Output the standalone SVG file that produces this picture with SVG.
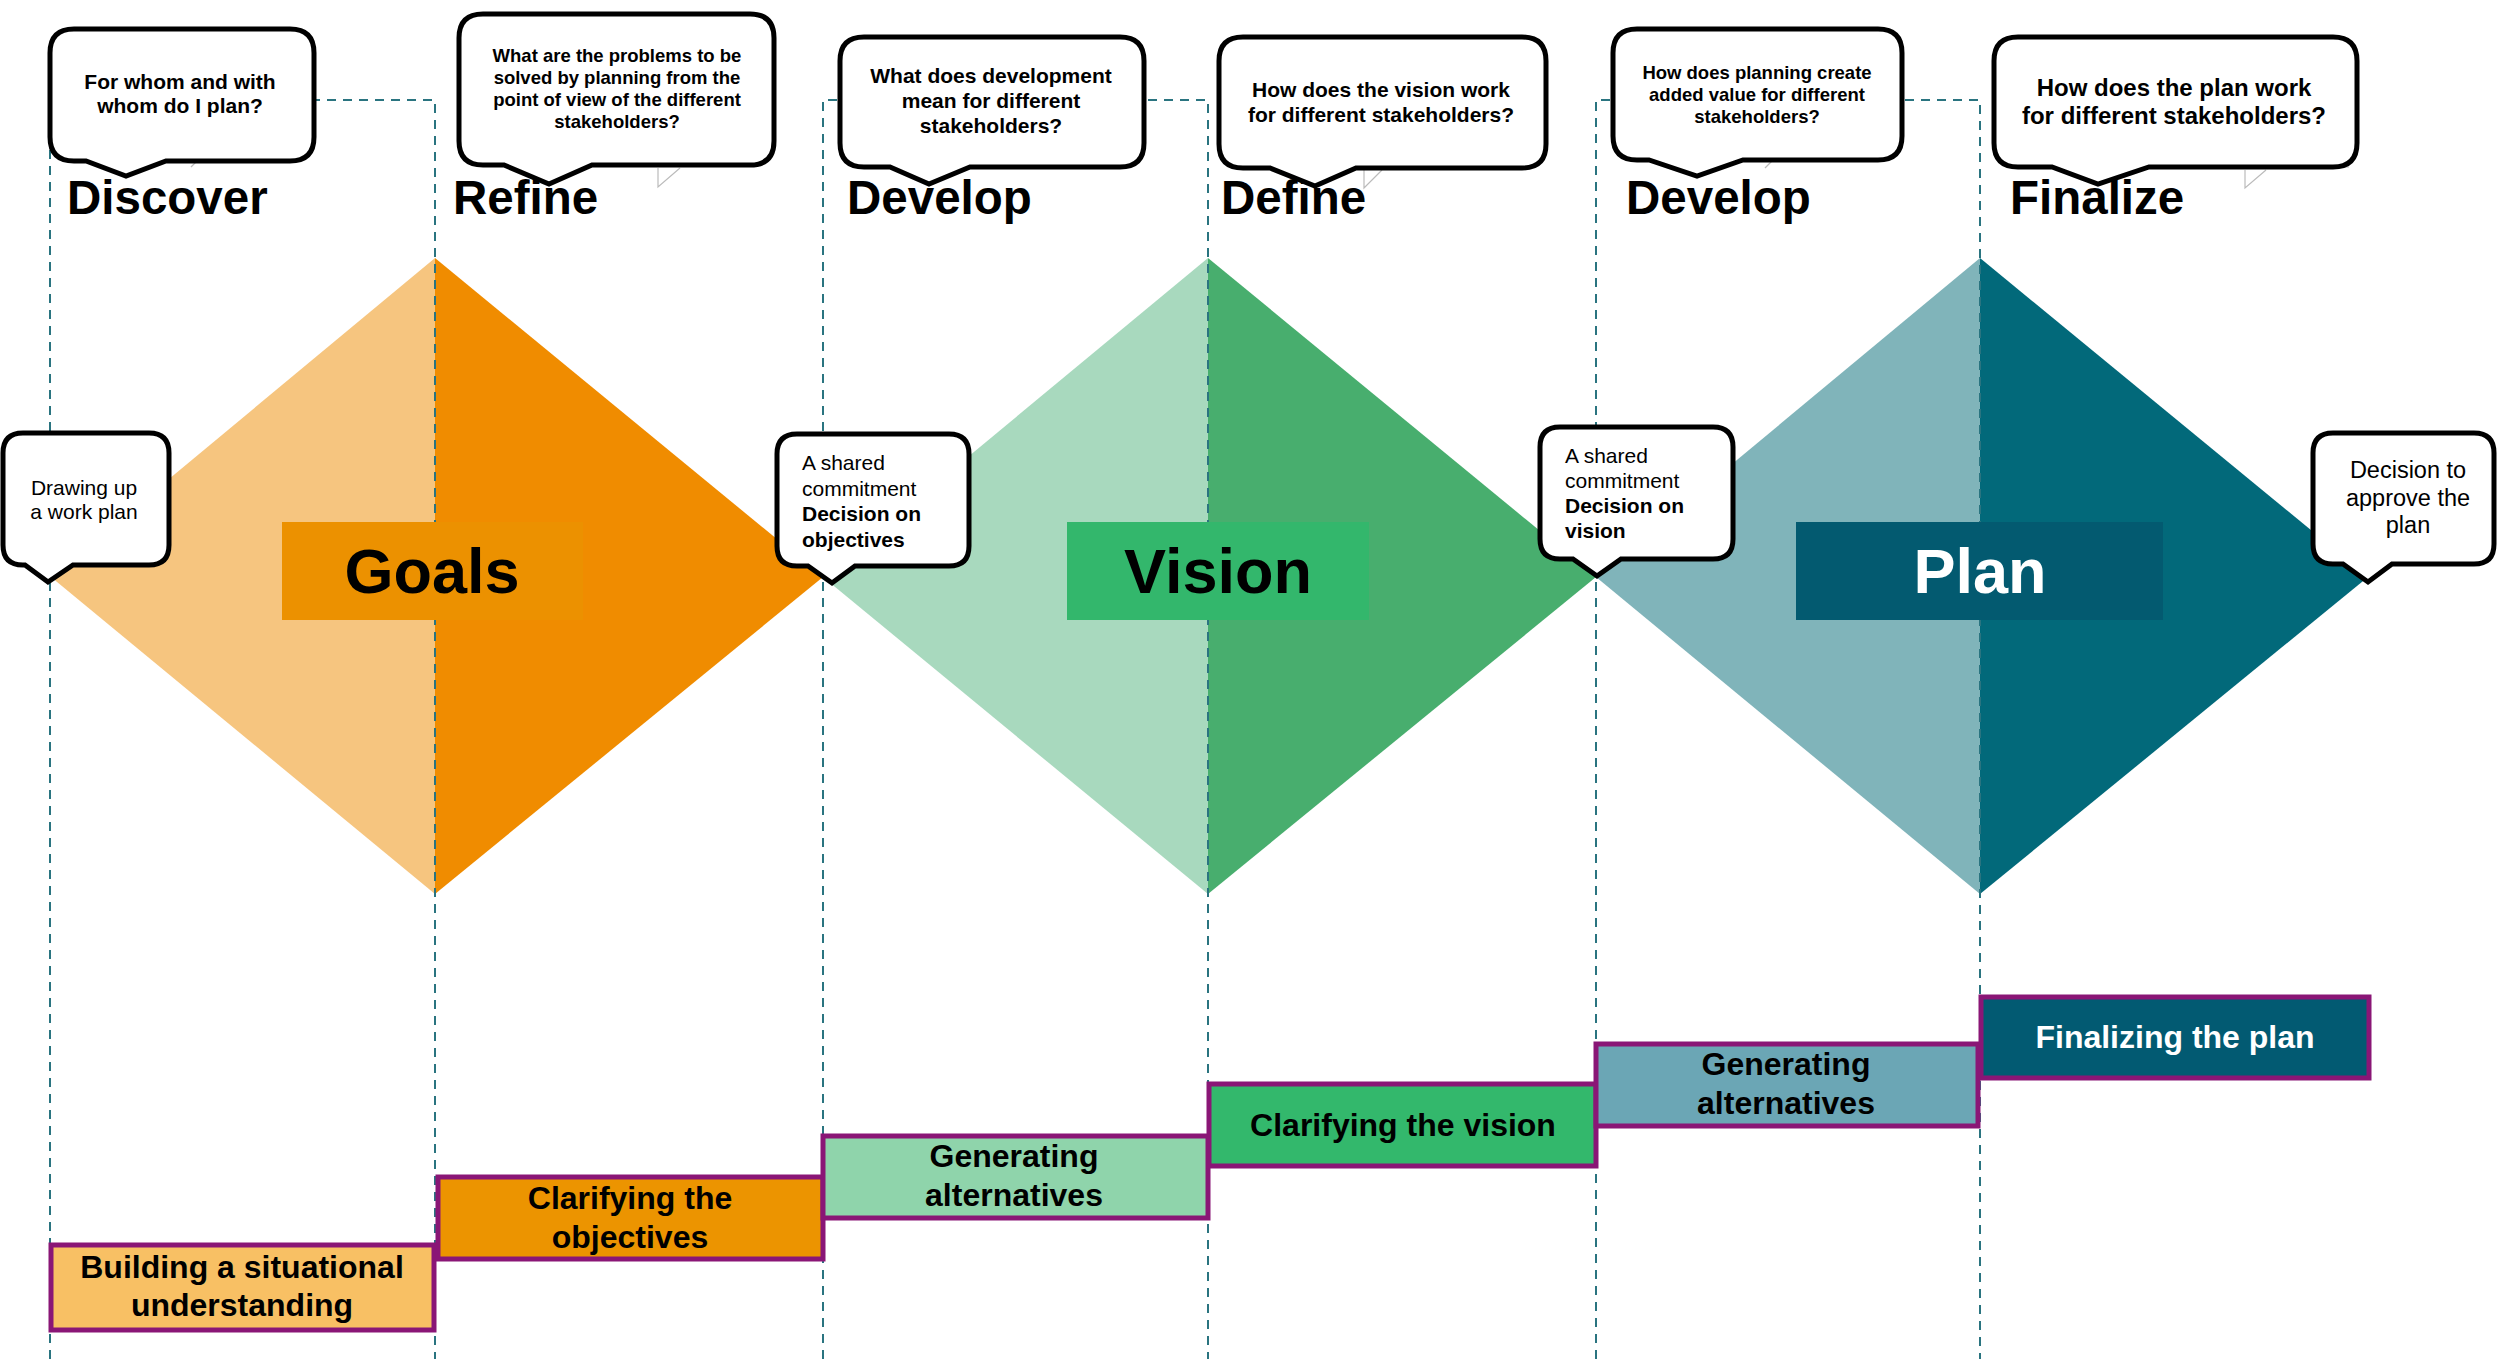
<svg xmlns="http://www.w3.org/2000/svg" width="2497" height="1359" viewBox="0 0 2497 1359">
<style>
text{font-family:"Liberation Sans",Arial,Helvetica,sans-serif;fill:#000}
.hd{font-size:47.5px;font-weight:bold}
.bub{fill:#fff;stroke:#000;stroke-width:5;stroke-linejoin:miter}
.ghost{fill:none;stroke:#bbb;stroke-width:1.2}
.q{font-weight:bold;text-anchor:middle}
.n{font-size:21px}
.nb{font-size:21px;font-weight:bold}
.dash{fill:none;stroke:#2a7480;stroke-width:2;stroke-dasharray:9 7}
.box{stroke:#8a1676;stroke-width:5}
.bt{font-size:32px;font-weight:bold;text-anchor:middle}
.lbl{font-size:63px;font-weight:bold;text-anchor:middle}
</style>
<rect width="2497" height="1359" fill="#fff"/>

<g id="diamond-goals">
<polygon points="51,577 435,258 435,894" fill="#f6c57f"/>
<polygon points="435,258 823,577 435,894" fill="#f08c00"/>
</g>
<g id="diamond-vision">
<polygon points="823,577 1208,258 1208,894" fill="#a8d9be"/>
<polygon points="1208,258 1596,577 1208,894" fill="#48ae6e"/>
</g>
<g id="diamond-plan">
<polygon points="1596,577 1980,258 1980,894" fill="#80b4ba"/>
<polygon points="1980,258 2368,577 1980,894" fill="#02697a"/>
</g>

<g id="connectors">
<path class="dash" d="M50,1359 V100 H435 V1359"/>
<path class="dash" d="M823,1359 V100 H1208 V1359"/>
<path class="dash" d="M1596,1359 V100 H1980 V1359"/>
</g>

<g id="label-goals">
<rect x="282" y="522" width="301" height="98" fill="#ec9100"/>
<text class="lbl" x="432" y="593">Goals</text>
</g>
<g id="label-vision">
<rect x="1067" y="522" width="302" height="98" fill="#33b76c"/>
<text class="lbl" x="1218" y="593">Vision</text>
</g>
<g id="label-plan">
<rect x="1796" y="522" width="367" height="98" fill="#035a70"/>
<text class="lbl" x="1980" y="593" style="fill:#fff">Plan</text>
</g>

<g id="heading-discover"><text class="hd" x="67" y="214">Discover</text></g>
<g id="heading-refine"><text class="hd" x="453" y="214">Refine</text></g>
<g id="heading-develop-1"><text class="hd" x="847" y="214">Develop</text></g>
<g id="heading-define"><text class="hd" x="1221" y="214">Define</text></g>
<g id="heading-develop-2"><text class="hd" x="1626" y="214">Develop</text></g>
<g id="heading-finalize"><text class="hd" x="2010" y="214">Finalize</text></g>

<g id="bubble-1">
<path class="ghost" d="M191,167 L198,160"/>
<path class="bub" d="M74,29 H290 Q314,29 314,53 V137 Q314,161 290,161 H166 L126,176 L86,161 H74 Q50,161 50,137 V53 Q50,29 74,29 Z"/>
<text class="q" x="180" y="89" font-size="21">For whom and with</text>
<text class="q" x="180" y="113" font-size="21">whom do I plan?</text>
</g>
<g id="bubble-2">
<path class="ghost" d="M658,168 V187 L680,168"/>
<path class="bub" d="M483,14 H750 Q774,14 774,38 V141 Q774,165 750,165 H592 L549,184 L504,165 H483 Q459,165 459,141 V38 Q459,14 483,14 Z"/>
<text class="q" x="617" y="62" font-size="18.5">What are the problems to be</text>
<text class="q" x="617" y="84" font-size="18.5">solved by planning from the</text>
<text class="q" x="617" y="106" font-size="18.5">point of view of the different</text>
<text class="q" x="617" y="128" font-size="18.5">stakeholders?</text>
</g>
<g id="bubble-3">
<path class="bub" d="M864,37 H1120 Q1144,37 1144,61 V143 Q1144,167 1120,167 H970 L929,184 L890,167 H864 Q840,167 840,143 V61 Q840,37 864,37 Z"/>
<text class="q" x="991" y="83" font-size="21">What does development</text>
<text class="q" x="991" y="108" font-size="21">mean for different</text>
<text class="q" x="991" y="133" font-size="21">stakeholders?</text>
</g>
<g id="bubble-4">
<path class="ghost" d="M1364,170 V188 L1382,170"/>
<path class="bub" d="M1243,37 H1522 Q1546,37 1546,61 V144 Q1546,168 1522,168 H1356 L1315,186 L1270,168 H1243 Q1219,168 1219,144 V61 Q1219,37 1243,37 Z"/>
<text class="q" x="1381" y="97" font-size="21">How does the vision work</text>
<text class="q" x="1381" y="122" font-size="21">for different stakeholders?</text>
</g>
<g id="bubble-5">
<path class="ghost" d="M1765,168 L1772,161"/>
<path class="bub" d="M1637,29 H1878 Q1902,29 1902,53 V136 Q1902,160 1878,160 H1743 L1697,176 L1649,160 H1637 Q1613,160 1613,136 V53 Q1613,29 1637,29 Z"/>
<text class="q" x="1757" y="79" font-size="18.5">How does planning create</text>
<text class="q" x="1757" y="101" font-size="18.5">added value for different</text>
<text class="q" x="1757" y="123" font-size="18.5">stakeholders?</text>
</g>
<g id="bubble-6">
<path class="ghost" d="M2224,167 H2349 M2245,170 V188 L2266,170"/>
<path class="bub" d="M2018,37 H2333 Q2357,37 2357,61 V143 Q2357,167 2333,167 H2149 L2098,184 L2052,167 H2018 Q1994,167 1994,143 V61 Q1994,37 2018,37 Z"/>
<text class="q" x="2174" y="96" font-size="24">How does the plan work</text>
<text class="q" x="2174" y="124" font-size="24">for different stakeholders?</text>
</g>

<g id="bubble-workplan">
<path class="bub" d="M23,433 H149 Q169,433 169,453 V545 Q169,565 149,565 H73 L48,582 L25,565 H23 Q3,565 3,545 V453 Q3,433 23,433 Z"/>
<text class="n" x="84" y="495" text-anchor="middle">Drawing up</text>
<text class="n" x="84" y="519" text-anchor="middle">a work plan</text>
</g>
<g id="bubble-objectives">
<path class="bub" d="M797,434 H949 Q969,434 969,454 V546 Q969,566 949,566 H855 L832,583 L808,566 H797 Q777,566 777,546 V454 Q777,434 797,434 Z"/>
<text class="n" x="802" y="470">A shared</text>
<text class="n" x="802" y="496">commitment</text>
<text class="nb" x="802" y="521">Decision on</text>
<text class="nb" x="802" y="547">objectives</text>
</g>
<g id="bubble-vision">
<path class="bub" d="M1560,427 H1713 Q1733,427 1733,447 V539 Q1733,559 1713,559 H1621 L1597,576 L1573,559 H1560 Q1540,559 1540,539 V447 Q1540,427 1560,427 Z"/>
<text class="n" x="1565" y="463">A shared</text>
<text class="n" x="1565" y="488">commitment</text>
<text class="nb" x="1565" y="513">Decision on</text>
<text class="nb" x="1565" y="538">vision</text>
</g>
<g id="bubble-approve">
<path class="bub" d="M2333,433 H2474 Q2494,433 2494,453 V544 Q2494,564 2474,564 H2392 L2368,582 L2343,564 H2333 Q2313,564 2313,544 V453 Q2313,433 2333,433 Z"/>
<text x="2408" y="478" font-size="23.5" text-anchor="middle">Decision to</text>
<text x="2408" y="506" font-size="23.5" text-anchor="middle">approve the</text>
<text x="2408" y="533" font-size="23.5" text-anchor="middle">plan</text>
</g>

<g id="step-1">
<rect class="box" x="51" y="1245" width="383" height="85" fill="#f8c064"/>
<text class="bt" x="242" y="1278">Building a situational</text>
<text class="bt" x="242" y="1316">understanding</text>
</g>
<g id="step-2">
<rect class="box" x="438" y="1177" width="385" height="82" fill="#ec9400"/>
<text class="bt" x="630" y="1209">Clarifying the</text>
<text class="bt" x="630" y="1248">objectives</text>
</g>
<g id="step-3">
<rect class="box" x="823" y="1136" width="385" height="82" fill="#8fd4ab"/>
<text class="bt" x="1014" y="1167">Generating</text>
<text class="bt" x="1014" y="1206">alternatives</text>
</g>
<g id="step-4">
<rect class="box" x="1209" y="1084" width="387" height="82" fill="#33b86c"/>
<text class="bt" x="1403" y="1136">Clarifying the vision</text>
</g>
<g id="step-5">
<rect class="box" x="1596" y="1044" width="382" height="82" fill="#6ba6b5"/>
<text class="bt" x="1786" y="1075">Generating</text>
<text class="bt" x="1786" y="1114">alternatives</text>
</g>
<g id="step-6">
<rect class="box" x="1981" y="997" width="388" height="81" fill="#025a72"/>
<text class="bt" x="2175" y="1048" style="fill:#fff">Finalizing the plan</text>
</g>
</svg>
